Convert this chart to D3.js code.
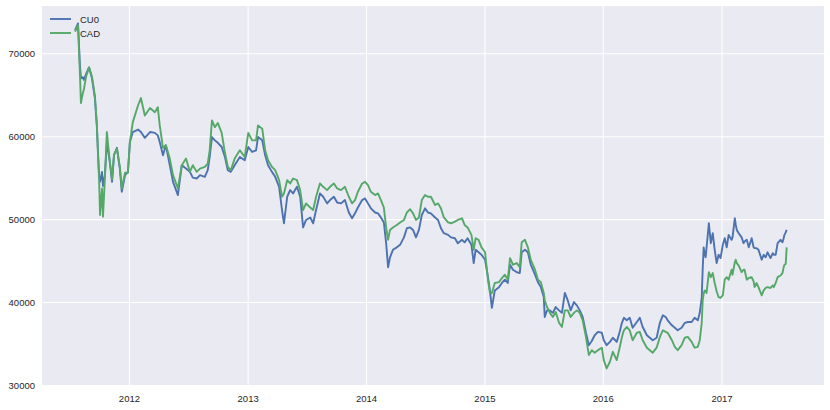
<!DOCTYPE html>
<html>
<head>
<meta charset="utf-8">
<script src="https://cdn.jsdelivr.net/npm/d3@7"></script>
<style>
  body { margin: 0; background: #fff; }
  text { font-family: "Liberation Sans", Arial, sans-serif; }
</style>
</head>
<body>
<script>
// values
const dates = [
  "2011-07-19","2011-07-28","2011-08-03","2011-08-06","2011-08-12","2011-08-15","2011-08-22","2011-08-31",
  "2011-09-09","2011-09-18","2011-09-24","2011-09-28","2011-10-01","2011-10-04","2011-10-10","2011-10-13",
  "2011-10-19","2011-10-25","2011-11-03","2011-11-10","2011-11-16","2011-11-25","2011-12-04","2011-12-10",
  "2011-12-20","2011-12-29","2012-01-04","2012-01-13","2012-01-29","2012-02-07","2012-02-19","2012-03-06",
  "2012-03-21","2012-03-30","2012-04-05","2012-04-15","2012-04-24","2012-05-06","2012-05-16","2012-05-31",
  "2012-06-12","2012-06-25","2012-07-07","2012-07-16","2012-07-28","2012-08-07","2012-08-22","2012-08-31",
  "2012-09-06","2012-09-13","2012-09-22","2012-10-01","2012-10-13","2012-10-23","2012-11-01","2012-11-10",
  "2012-11-22","2012-12-08","2012-12-23","2013-01-03","2013-01-15","2013-01-27","2013-02-02","2013-02-15",
  "2013-02-24","2013-03-05","2013-03-17","2013-03-27","2013-04-08","2013-04-17","2013-04-23","2013-05-03",
  "2013-05-12","2013-05-21","2013-06-02","2013-06-12","2013-06-21","2013-06-30","2013-07-13","2013-07-22",
  "2013-07-31","2013-08-12","2013-08-22","2013-09-03","2013-09-12","2013-09-24","2013-10-04","2013-10-16",
  "2013-10-28","2013-11-09","2013-11-19","2013-11-28","2013-12-07","2013-12-20","2013-12-29","2014-01-07",
  "2014-01-16","2014-01-29","2014-02-07","2014-02-16","2014-02-25","2014-03-04","2014-03-10","2014-03-16",
  "2014-03-25","2014-04-06","2014-04-16","2014-04-28","2014-05-07","2014-05-17","2014-05-26","2014-06-04",
  "2014-06-13","2014-06-22","2014-07-02","2014-07-11","2014-07-20","2014-08-02","2014-08-11","2014-08-20",
  "2014-08-29","2014-09-11","2014-09-20","2014-10-02","2014-10-11","2014-10-24","2014-11-01","2014-11-10",
  "2014-11-22","2014-11-29","2014-12-05","2014-12-14","2014-12-23","2015-01-03","2015-01-12","2015-01-18",
  "2015-01-24","2015-02-02","2015-02-15","2015-02-24","2015-03-05","2015-03-14","2015-03-21","2015-03-30",
  "2015-04-11","2015-04-20","2015-04-26","2015-05-06","2015-05-15","2015-05-24","2015-06-06","2015-06-15",
  "2015-06-24","2015-07-03","2015-07-06","2015-07-13","2015-07-22","2015-07-31","2015-08-09","2015-08-19",
  "2015-08-28","2015-09-06","2015-09-15","2015-09-24","2015-10-04","2015-10-13","2015-10-22","2015-10-31",
  "2015-11-10","2015-11-19","2015-11-28","2015-12-07","2015-12-17","2015-12-29","2016-01-04","2016-01-13",
  "2016-01-23","2016-02-01","2016-02-13","2016-02-22","2016-02-29","2016-03-06","2016-03-15","2016-03-24",
  "2016-04-02","2016-04-15","2016-04-24","2016-05-03","2016-05-16","2016-05-25","2016-06-03","2016-06-15",
  "2016-06-25","2016-07-04","2016-07-13","2016-07-19","2016-08-01","2016-08-10","2016-08-19","2016-08-31",
  "2016-09-10","2016-09-19","2016-10-01","2016-10-10","2016-10-20","2016-10-26","2016-11-01","2016-11-04",
  "2016-11-07","2016-11-10","2016-11-13","2016-11-16","2016-11-23","2016-11-29","2016-12-05","2016-12-11",
  "2016-12-17","2016-12-23","2016-12-29","2017-01-05","2017-01-11","2017-01-17","2017-01-23","2017-02-01",
  "2017-02-04","2017-02-11","2017-02-14","2017-02-17","2017-02-23","2017-03-04","2017-03-10","2017-03-13",
  "2017-03-20","2017-03-26","2017-04-04","2017-04-10","2017-04-13","2017-04-19","2017-04-25","2017-05-05",
  "2017-05-11","2017-05-17","2017-05-23","2017-06-01","2017-06-08","2017-06-11","2017-06-17","2017-06-23",
  "2017-07-02","2017-07-08","2017-07-11","2017-07-14","2017-07-18","2017-07-21"
];

const cu0 = [
  72800,73600,68500,67000,67100,66800,67500,68300,
  67000,64600,61300,57700,55300,54500,55700,54000,
  55300,59300,56900,54500,57700,58600,56100,53300,
  55300,55700,59300,60500,60800,60500,59800,60500,
  60400,60100,59300,57700,58900,56500,54500,52900,
  56500,56100,55700,55000,54900,55300,55100,55900,
  57500,59900,59500,59200,58700,57500,55900,55700,
  56500,57500,57100,58700,58100,58300,59900,59500,
  57700,56500,55700,55100,53900,51100,49500,52700,
  53500,53100,53900,52700,49000,49900,50200,49500,
  51100,53100,52700,51900,52300,52700,52000,51900,
  52300,50800,50100,50700,51400,52300,52500,51900,
  51300,50800,50700,50200,49600,47100,44200,45400,
  46300,46600,46900,47800,48900,49000,48700,47800,
  48700,50500,51300,50800,50700,50200,49900,48900,
  48300,48100,47800,47700,47100,47500,47200,47700,
  46900,44700,46300,46000,45700,45100,43000,41400,
  39300,41400,41800,42300,42700,42300,44500,43900,
  43600,43500,46000,46300,46000,44500,43300,42400,
  41800,40600,38200,39000,39000,38700,39400,39000,
  38700,41100,40200,39000,40000,39600,39000,38200,
  36300,34800,35300,36000,36400,36300,35400,34800,
  35200,35700,35200,36400,37500,38100,37800,38100,
  36900,37600,38100,37000,36000,35700,35400,35700,
  37500,38400,38200,37800,37200,36900,36600,36900,
  37500,37600,37600,38100,37800,38700,40500,44000,
  46600,45800,45400,46600,49500,47100,48300,46300,
  44700,45700,45300,46900,47700,46600,48100,47500,
  47800,50100,49300,48700,48300,47800,47100,47300,
  47500,46600,47700,46600,46500,46500,46300,45100,
  45700,45400,46000,45300,45900,45700,45700,47100,
  47500,47200,47600,48100,48400,48700
];

const cad = [
  72600,73400,67500,64000,65200,65600,67200,68300,
  67200,64900,61500,57500,54800,50500,53700,50300,
  55000,60500,57000,54800,57800,58500,56300,53700,
  55600,55600,59300,61700,63700,64600,62500,63400,
  62900,63500,61300,58600,58900,57300,55300,53700,
  56500,57300,55700,56500,55700,56100,56300,56700,
  58300,61900,61100,61600,60400,58000,56300,55900,
  57300,58300,57500,60400,59500,59500,61300,60900,
  58300,57100,56300,55900,54700,52700,53100,54700,
  54300,54900,54700,53500,51100,51900,51400,51100,
  52700,54300,53900,53500,53900,54300,53700,53500,
  53900,52700,51900,52300,53300,54300,54500,54100,
  53300,52900,53100,52300,51400,49000,47500,48700,
  49000,49300,49600,49900,50800,51200,50700,49900,
  50200,52300,52900,52700,52700,51700,51900,51300,
  50200,49600,49500,49700,49900,50100,49300,49000,
  48100,46300,47700,47500,46600,46000,42700,41100,
  41100,42300,42400,42900,43300,42700,45300,44500,
  44700,44200,47200,47500,46600,45100,43900,42700,
  42400,41100,40200,39400,38700,38200,38800,37500,
  37000,39000,39000,38200,38700,39000,38700,37800,
  35800,33600,34200,33900,34200,34500,33000,32000,
  32800,34000,33000,34500,35800,36600,37000,36600,
  35400,36300,36400,35400,34500,34200,33900,34500,
  35800,36600,36400,36300,35400,34600,34200,34800,
  35700,35800,35200,34500,34600,35400,37500,40200,
  41000,41400,41300,41100,43600,43000,43500,42300,
  41300,40600,40500,40800,42700,43000,42700,43900,
  43300,44800,45100,44700,44400,43600,43900,43900,
  42700,42900,43000,42500,41800,42300,41800,40800,
  41400,41700,41800,41700,42000,41800,42300,43000,
  43200,43500,44100,44500,44600,46600
];

const seriesNames = ["CU0", "CAD"];
const seriesColors = ["#4C72B0", "#55A868"];
const xLimits = ["2011-04-08", "2017-11-13"];
const yLimits = [30000, 75700];
const yTicks = [30000, 40000, 50000, 60000, 70000];

const width = 830, height = 410;
const margin = {top: 6, right: 6, bottom: 25, left: 42};

const parse = d3.timeParse("%Y-%m-%d");
const rows = dates.map((d, i) => ({date: parse(d), cu0: cu0[i], cad: cad[i]}));

const svg = d3.select("body").append("svg")
    .attr("width", width)
    .attr("height", height);

const x = d3.scaleTime()
    .domain(xLimits.map(parse))
    .range([margin.left, width - margin.right]);

const y = d3.scaleLinear()
    .domain(yLimits)
    .range([height - margin.bottom, margin.top]);

// plot background
svg.append("rect")
    .attr("x", margin.left)
    .attr("y", margin.top)
    .attr("width", width - margin.left - margin.right)
    .attr("height", height - margin.top - margin.bottom)
    .attr("fill", "#EAEAF2");

// x axis with white gridlines
const xAxis = svg.append("g")
    .attr("transform", `translate(0,${height - margin.bottom})`)
    .call(d3.axisBottom(x)
        .ticks(d3.timeYear.every(1))
        .tickFormat(d3.timeFormat("%Y"))
        .tickSize(-(height - margin.top - margin.bottom))
        .tickPadding(10));
xAxis.select(".domain").remove();
xAxis.selectAll("line").attr("stroke", "#fff").attr("stroke-width", 1.1);
xAxis.selectAll("text").attr("fill", "#262626").style("font-size", "9.5px");

const yAxis = svg.append("g")
    .attr("transform", `translate(${margin.left},0)`)
    .call(d3.axisLeft(y)
        .tickValues(yTicks)
        .tickFormat(d3.format("d"))
        .tickSize(-(width - margin.left - margin.right))
        .tickPadding(7));
yAxis.select(".domain").remove();
yAxis.selectAll("line").attr("stroke", "#fff").attr("stroke-width", 1.1);
yAxis.selectAll("text").attr("fill", "#262626").style("font-size", "9.5px");

// lines, CU0 first so CAD sits on top
const keys = ["cu0", "cad"];
keys.forEach((k, i) => {
    const line = d3.line()
        .x(d => x(d.date))
        .y(d => y(d[k]));
    svg.append("path")
        .datum(rows)
        .attr("fill", "none")
        .attr("stroke", seriesColors[i])
        .attr("stroke-width", 1.9)
        .attr("stroke-linejoin", "round")
        .attr("d", line);
});

// legend, upper left
const legend = svg.append("g")
    .attr("transform", `translate(${margin.left + 8},${margin.top + 13})`);
seriesNames.forEach((name, i) => {
    const g = legend.append("g").attr("transform", `translate(0,${i * 14})`);
    g.append("line")
        .attr("x1", 0).attr("x2", 21)
        .attr("y1", 0).attr("y2", 0)
        .attr("stroke", seriesColors[i])
        .attr("stroke-width", 1.9);
    g.append("text")
        .attr("x", 30)
        .attr("y", 3.5)
        .attr("fill", "#262626")
        .style("font-size", "9.5px")
        .text(name);
});
</script>
</body>
</html>
